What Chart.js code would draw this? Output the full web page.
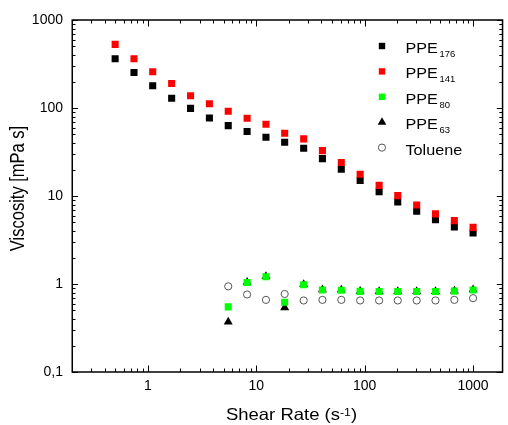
<!DOCTYPE html>
<html><head><meta charset="utf-8">
<script src="https://cdn.jsdelivr.net/npm/chart.js@4/dist/chart.umd.min.js"></script>
<style>html,body{margin:0;padding:0;background:#fff;} canvas{display:block;}</style>
</head><body>
<canvas id="c" width="508" height="425"></canvas>
<script>
// ---- data ----
const shearRate = [0.5, 0.746, 1.11, 1.66, 2.48, 3.70, 5.52, 8.24, 12.3, 18.3, 27.4, 40.8, 60.9, 90.9, 136, 202, 302, 450, 672, 1000];
const ppe176 = [363, 253, 179, 129, 99, 77, 63, 54, 46.5, 40.8, 34.9, 26.6, 20.1, 15.0, 11.2, 8.57, 6.70, 5.39, 4.45, 3.80];
const ppe141 = [528, 363, 258, 190, 138, 112, 92, 76.6, 65.4, 51.7, 44.6, 32.8, 24.0, 17.7, 13.2, 10.1, 7.9, 6.26, 5.25, 4.40];
const lowShearRate = [5.52, 8.24, 12.3, 18.3, 27.4, 40.8, 60.9, 90.9, 136, 202, 302, 450, 672, 1000];
const ppe80 = [0.55, 1.04, 1.21, 0.62, 0.98, 0.855, 0.85, 0.824, 0.82, 0.82, 0.82, 0.82, 0.83, 0.855];
const ppe63 = [0.37, 1.05, 1.22, 0.54, 0.99, 0.86, 0.855, 0.83, 0.825, 0.825, 0.825, 0.825, 0.835, 0.86];
const toluene = [0.94, 0.76, 0.66, 0.77, 0.65, 0.66, 0.66, 0.65, 0.65, 0.65, 0.65, 0.65, 0.66, 0.69];
const xTickValues = [1, 10, 100, 1000];
const xTickLabels = ['1', '10', '100', '1000'];
const yTickValues = [0.1, 1, 10, 100, 1000];
const yTickLabels = ['0,1', '1', '10', '100', '1000'];
const legendNames = ['PPE', 'PPE', 'PPE', 'PPE', 'Toluene'];
const legendSubs = ['176', '141', '80', '63', ''];
const xTitle = ['Shear Rate (s', '-1', ')'];
const yTitle = 'Viscosity [mPa s]';

const pts = (xs, ys) => xs.map((x, i) => ({x: x, y: ys[i]}));
const FONT = '"Liberation Sans", Arial, sans-serif';

const datasets = [
  {label: 'PPE176', data: pts(shearRate, ppe176), pointStyle: 'rect', pointRadius: 5, backgroundColor: '#000', borderWidth: 0, order: 5},
  {label: 'PPE141', data: pts(shearRate, ppe141), pointStyle: 'rect', pointRadius: 5, backgroundColor: '#ff0000', borderWidth: 0, order: 4},
  {label: 'PPE80', data: pts(lowShearRate, ppe80), pointStyle: 'rect', pointRadius: 5, backgroundColor: '#00ff00', borderWidth: 0, order: 2},
  {label: 'PPE63', data: pts(lowShearRate, ppe63), pointStyle: 'triangle', pointRadius: 5.2, backgroundColor: '#000', borderWidth: 0, order: 3},
  {label: 'Toluene', data: pts(lowShearRate, toluene), pointStyle: 'circle', pointRadius: 3.6, backgroundColor: 'rgba(255,255,255,0)', borderColor: '#555', borderWidth: 1, order: 1}
];

function stretchText(ctx, txt, x, y, font, sx) {
  ctx.save();
  ctx.font = font;
  ctx.translate(x, y);
  ctx.scale(sx, 1);
  ctx.fillText(txt, 0, 0);
  const w = ctx.measureText(txt).width * sx;
  ctx.restore();
  return w;
}

const framePlugin = {
  id: 'frameTicks',
  afterDraw(chart) {
    const ctx = chart.ctx, a = chart.chartArea, xs = chart.scales.x, ys = chart.scales.y;
    ctx.save();
    ctx.strokeStyle = '#000';
    ctx.lineWidth = 1;
    ctx.beginPath();
    for (let d = -1; d <= 3; d++) {
      for (let m = 1; m <= 9; m++) {
        const v = m * Math.pow(10, d);
        if (v >= xs.min && v <= xs.max) {
          const px = Math.round(xs.getPixelForValue(v)) + 0.5;
          const L = m === 1 ? 6.5 : 3.5;
          ctx.moveTo(px, a.bottom); ctx.lineTo(px, a.bottom - L);
          ctx.moveTo(px, a.top); ctx.lineTo(px, a.top + L);
        }
        if (v >= ys.min && v <= ys.max) {
          const py = Math.round(ys.getPixelForValue(v)) + 0.5;
          const L = m === 1 ? 6 : 3.5;
          ctx.moveTo(a.left, py); ctx.lineTo(a.left + L, py);
          ctx.moveTo(a.right, py); ctx.lineTo(a.right - L, py);
        }
      }
    }
    ctx.stroke();
    ctx.lineWidth = 1.5;
    ctx.strokeRect(a.left + 0.25, a.top, a.right - a.left - 0.5, a.bottom - a.top);
    ctx.restore();

    // axis titles
    ctx.save();
    ctx.fillStyle = '#000';
    ctx.textBaseline = 'alphabetic';
    const f1 = '16.5px ' + FONT, f2 = '11px ' + FONT, sx = 1.12;
    ctx.font = f1;
    const w1 = ctx.measureText(xTitle[0]).width * sx;
    const w3 = ctx.measureText(xTitle[2]).width * sx;
    ctx.font = f2;
    const w2 = ctx.measureText(xTitle[1]).width * sx;
    let x0 = 291.5 - (w1 + w2 + w3) / 2;
    stretchText(ctx, xTitle[0], x0, 420, f1, sx);
    stretchText(ctx, xTitle[1], x0 + w1, 415.5, f2, sx);
    stretchText(ctx, xTitle[2], x0 + w1 + w2, 420, f1, sx);
    ctx.restore();

    ctx.save();
    ctx.fillStyle = '#000';
    ctx.translate(18.5, 188.5);
    ctx.rotate(-Math.PI / 2);
    ctx.scale(1, 1.2);
    ctx.font = '16.5px ' + FONT;
    ctx.textAlign = 'center';
    ctx.textBaseline = 'middle';
    ctx.fillText(yTitle, 0, 0);
    ctx.restore();

    // legend
    ctx.save();
    const sxl = 382, tx = 405.5, y0 = 46, dy = 25.4;
    chart.data.datasets.forEach((ds, i) => {
      const cy = y0 + i * dy;
      ctx.beginPath();
      if (ds.pointStyle === 'rect') {
        ctx.fillStyle = ds.backgroundColor;
        ctx.fillRect(sxl - 3.2, cy - 3.2, 6.4, 6.4);
      } else if (ds.pointStyle === 'triangle') {
        const r = 5;
        ctx.fillStyle = ds.backgroundColor;
        ctx.moveTo(sxl, cy - r);
        ctx.lineTo(sxl + r * 0.866, cy + r / 2);
        ctx.lineTo(sxl - r * 0.866, cy + r / 2);
        ctx.closePath();
        ctx.fill();
      } else {
        ctx.strokeStyle = ds.borderColor;
        ctx.lineWidth = 1;
        ctx.arc(sxl, cy, 3.6, 0, Math.PI * 2);
        ctx.stroke();
      }
      ctx.fillStyle = '#000';
      const w = stretchText(ctx, legendNames[i], tx, cy + 7, '15px ' + FONT, 1.08);
      if (legendSubs[i]) stretchText(ctx, legendSubs[i], tx + w + 1.5, cy + 11, '9px ' + FONT, 1.05);
    });
    ctx.restore();
  }
};

new Chart(document.getElementById('c'), {
  type: 'scatter',
  data: {datasets: datasets},
  options: {
    responsive: false,
    animation: false,
    devicePixelRatio: 1,
    layout: {padding: {top: 20, right: 1, left: 0, bottom: 0}},
    plugins: {legend: {display: false}, tooltip: {enabled: false}},
    scales: {
      x: {
        type: 'logarithmic', position: 'bottom', min: 0.2, max: 1880,
        grid: {display: false, drawTicks: false}, border: {display: false},
        afterBuildTicks: s => { s.ticks = xTickValues.map(v => ({value: v})); },
        ticks: {callback: (v, i) => xTickLabels[i], font: {family: FONT, size: 14}, color: '#000', padding: 6, maxRotation: 0, autoSkip: false},
        afterFit: s => { s.height = 53; }
      },
      y: {
        type: 'logarithmic', position: 'left', min: 0.1, max: 1000,
        grid: {display: false, drawTicks: false}, border: {display: false},
        afterBuildTicks: s => { s.ticks = yTickValues.map(v => ({value: v})); },
        ticks: {callback: (v, i) => yTickLabels[i], font: {family: FONT, size: 14}, color: '#000', padding: 9, autoSkip: false},
        afterFit: s => { s.width = 72; }
      }
    }
  },
  plugins: [framePlugin]
});
</script>
</body></html>
